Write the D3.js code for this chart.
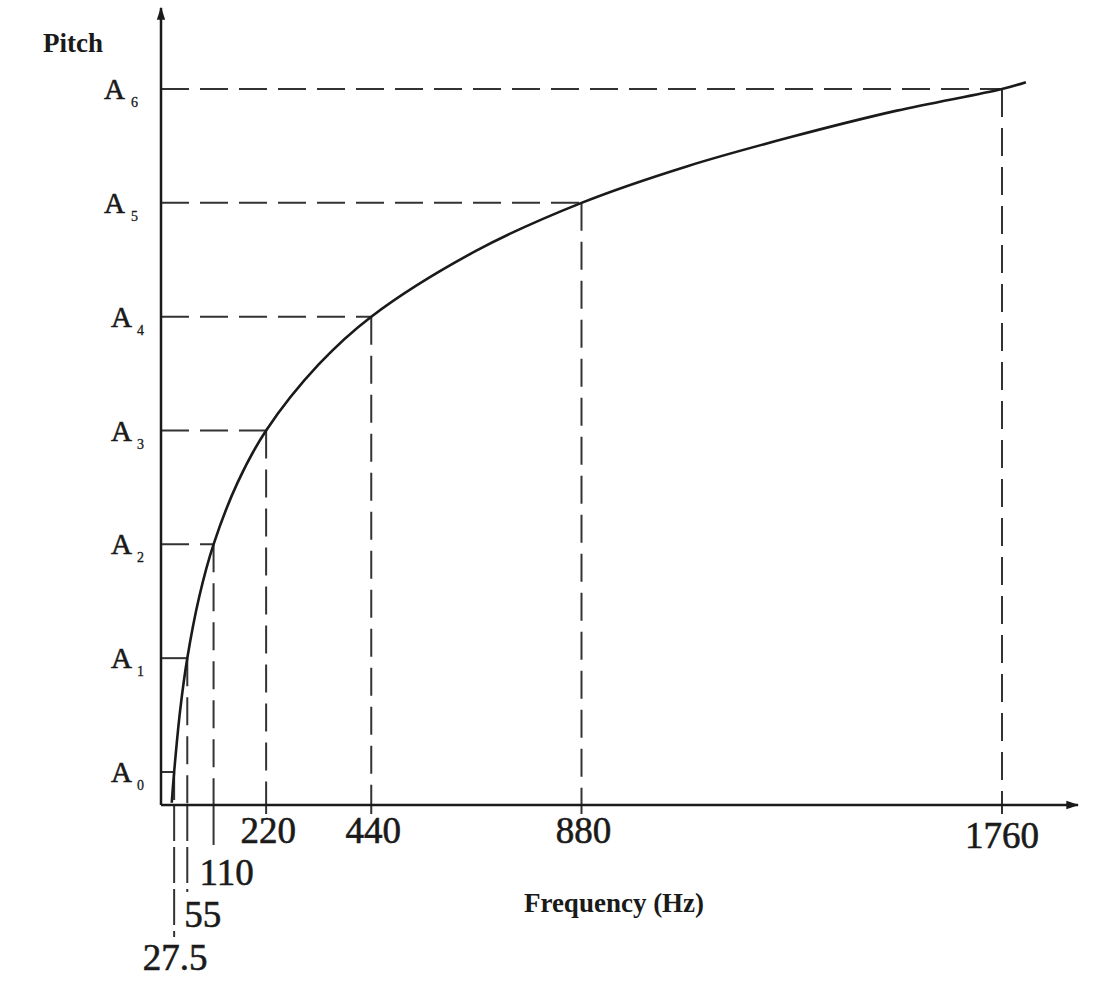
<!DOCTYPE html>
<html>
<head>
<meta charset="utf-8">
<script src="https://cdn.jsdelivr.net/npm/d3@7"></script>
<style>
  html, body { margin: 0; padding: 0; background: #fff; }
  svg { display: block; }
</style>
</head>
<body>
<script>
// ---- data ----
const pitchNames  = ["A", "A", "A", "A", "A", "A", "A"];
const octaves     = [0, 1, 2, 3, 4, 5, 6];
const frequencies = [27.5, 55, 110, 220, 440, 880, 1760];
const mainTickLabels  = ["220", "440", "880", "1760"];
const smallTickLabels = ["110", "55", "27.5"];
// curve points: [frequency (Hz), octave]
const curveFreq   = [22.5, 27.5, 40, 55, 80, 110, 160, 220, 330, 440, 660, 880, 1100, 1320, 1540, 1760, 1810];
const curveOctave = [-0.27, 0, 0.54, 1, 1.54, 2, 2.54, 3, 3.58, 4, 4.58, 5, 5.32, 5.58, 5.81, 6, 6.06];

const W = 1098, H = 990;
const svg = d3.select("body").append("svg").attr("width", W).attr("height", H);

const x = d3.scaleLinear().domain([0, 1760]).range([161, 1002]);
const y = d3.scaleLinear().domain([0, 6]).range([772, 89]);
const axisY = 805;
const ink = "#1a1a1a";

// arrow markers
const defs = svg.append("defs");
defs.append("marker").attr("id", "arr").attr("viewBox", "0 0 10 10")
  .attr("refX", 9).attr("refY", 5).attr("markerWidth", 13).attr("markerHeight", 13)
  .attr("markerUnits", "userSpaceOnUse").attr("orient", "auto")
  .append("path").attr("d", "M0,1.8 L10,5 L0,8.2 Z").attr("fill", ink);

// dashed guide lines
const dash = "28,11";
const g = svg.append("g").attr("stroke", "#333").attr("stroke-width", 2).attr("fill", "none");
frequencies.forEach((f, i) => {
  const py = y(octaves[i]);
  g.append("line").attr("x1", x(0)).attr("x2", x(f)).attr("y1", py).attr("y2", py)
    .attr("stroke-dasharray", dash);
  g.append("line").attr("x1", x(f)).attr("x2", x(f)).attr("y1", py).attr("y2", axisY)
    .attr("stroke-dasharray", dash);
});
// extensions below axis
const ext = { 110: 40, 55: 87, 27.5: 132 };
smallTickLabels.forEach(lbl => {
  const f = +lbl;
  g.append("line").attr("x1", x(f)).attr("x2", x(f)).attr("y1", axisY).attr("y2", axisY + ext[f])
    .attr("stroke-dasharray", f === 110 ? null : "36,6");
});
mainTickLabels.forEach(lbl => {
  const f = +lbl;
  g.append("line").attr("x1", x(f)).attr("x2", x(f)).attr("y1", axisY).attr("y2", axisY + 9);
});

// axes
svg.append("line").attr("x1", x(0)).attr("x2", x(0)).attr("y1", axisY).attr("y2", 8)
  .attr("stroke", ink).attr("stroke-width", 2.5).attr("marker-end", "url(#arr)");
svg.append("line").attr("x1", x(0)).attr("x2", 1078).attr("y1", axisY).attr("y2", axisY)
  .attr("stroke", ink).attr("stroke-width", 2.5).attr("marker-end", "url(#arr)");

// curve
const pts = curveFreq.map((f, i) => [f, curveOctave[i]]);
const line = d3.line().x(d => x(d[0])).y(d => y(d[1])).curve(d3.curveCatmullRom.alpha(0.5));
svg.append("path").datum(pts).attr("d", line)
  .attr("fill", "none").attr("stroke", ink).attr("stroke-width", 2.6);

// y labels
const serif = "'Liberation Serif', 'DejaVu Serif', serif";
function txt() {
  return svg.append("text").attr("font-family", serif).attr("fill", ink)
    .attr("stroke", ink).attr("stroke-width", 0.6);
}
octaves.forEach((o, i) => {
  txt().attr("x", o >= 5 ? 125 : 132).attr("y", y(o) + 10).attr("text-anchor", "end")
    .attr("font-size", 29).text(pitchNames[i]);
  txt().attr("x", o >= 5 ? 131 : 137).attr("y", y(o) + 18)
    .attr("font-size", 14).attr("stroke-width", 0.3).text(String(o));
});

// x labels
mainTickLabels.forEach(lbl => {
  const f = +lbl;
  txt().attr("x", x(f) + (f === 1760 ? 0 : 2)).attr("y", axisY + (f === 1760 ? 43 : 38))
    .attr("text-anchor", "middle").attr("font-size", 37).text(lbl);
});
const smallPos = { 110: { dx: -14, dy: 80, a: "start" }, 55: { dx: -3, dy: 122, a: "start" }, 27.5: { dx: 1, dy: 165, a: "middle" } };
smallTickLabels.forEach(lbl => {
  const f = +lbl, p = smallPos[f];
  txt().attr("x", x(f) + p.dx).attr("y", axisY + p.dy)
    .attr("text-anchor", p.a).attr("font-size", 37).text(lbl);
});

// axis titles
svg.append("text").attr("font-family", serif).attr("font-weight", "bold").attr("fill", ink)
  .attr("x", 614).attr("y", 912).attr("text-anchor", "middle").attr("font-size", 27)
  .text("Frequency (Hz)");
svg.append("text").attr("font-family", serif).attr("font-weight", "bold").attr("fill", ink)
  .attr("x", 43).attr("y", 52).attr("font-size", 27).text("Pitch");
</script>
</body>
</html>
